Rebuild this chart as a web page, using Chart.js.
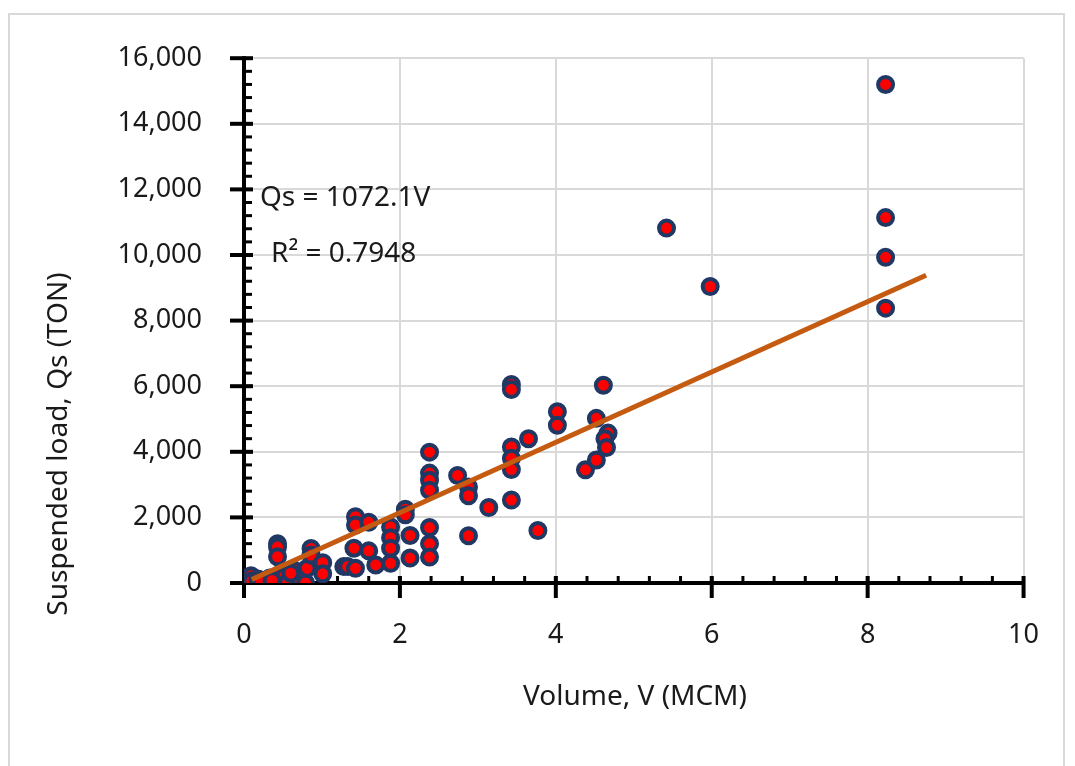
<!DOCTYPE html>
<html>
<head>
<meta charset="utf-8">
<script src="https://cdn.jsdelivr.net/npm/chart.js@4.4.1/dist/chart.umd.min.js"></script>
<style>
  html, body { margin: 0; padding: 0; background: #fff; overflow: hidden; }
  #frame { position: absolute; left: 8px; top: 13px; width: 1053px; height: 800px; border: 2px solid #d9d9d9; }
  #wrap { position: absolute; left: 0; top: 0; width: 1075px; height: 766px; }
</style>
</head>
<body>
<div id="frame"></div>
<div id="wrap"><canvas id="chart" width="1075" height="766"></canvas></div>
<script>
// Volume V (MCM) and suspended load Qs (TON)
const volume = [
  0.09, 0.10, 0.18, 0.28, 0.33, 0.43, 0.43, 0.43, 0.45, 0.52,
  0.56, 0.64, 0.70, 0.79, 0.81, 0.86, 0.86, 1.01, 1.01, 1.28,
  1.33, 1.43, 1.43, 1.41, 1.43, 1.60, 1.60, 1.69, 1.88, 1.88,
  1.88, 1.88, 2.07, 2.07, 2.13, 2.13, 2.38, 2.38, 2.38, 2.38,
  2.38, 2.38, 2.38, 2.74, 2.88, 2.88, 2.88, 3.14, 3.43, 3.43,
  3.43, 3.43, 3.43, 3.43, 3.65, 3.77, 4.02, 4.02, 4.38, 4.52,
  4.52, 4.61, 4.67, 4.63, 4.65, 5.42, 5.98, 8.23, 8.23, 8.23,
  8.23, 0.22, 0.36, 0.60
]
const load = [
  220, 60, 120, 0, 150, 1200, 1100, 800, 250, 200,
  0, 400, 150, 0, 450, 1050, 850, 620, 280, 500,
  500, 2020, 1770, 1060, 450, 1850, 980, 550, 1710, 1380,
  1060, 600, 2250, 2080, 1450, 760, 3990, 3350, 3130, 2830,
  1690, 1200, 790, 3280, 2930, 2660, 1440, 2300, 6050, 5900,
  4150, 3800, 3460, 2530, 4400, 1600, 5220, 4810, 3450, 5020,
  3750, 6030, 4570, 4400, 4130, 10820, 9040, 15200, 11140, 9930,
  8380, 30, 80, 300
]

// linear trendline through origin (Qs = 1072.1V), endpoints as shown
const trendVolume = [0.1, 8.75]
const trendLoad = [107, 9381]

const xTicks = [0, 2, 4, 6, 8, 10]
const yTicks = [0, 2000, 4000, 6000, 8000, 10000, 12000, 14000, 16000]
const xMinorStep = 0.4
const yMinorStep = 400

const equationText = "Qs = 1072.1V"
const r2Text = "R² = 0.7948"
const xTitle = "Volume, V (MCM)"
const yTitle = "Suspended load, Qs (TON)"

const FONT = "'Noto Sans', 'Open Sans', sans-serif"
const TEXT = "#1a1a1a"

const points = volume.map((v, i) => ({ x: v, y: load[i] }))
const trend = trendVolume.map((v, i) => ({ x: v, y: trendLoad[i] }))

// axis lines + cross/inside ticks, Excel style
const axesPlugin = {
  id: "axesPlugin",
  beforeDatasetsDraw(chart) {
    const { ctx, chartArea, scales } = chart
    const xs = scales.x, ys = scales.y
    const x0 = xs.getPixelForValue(0)
    const y0 = ys.getPixelForValue(0)
    ctx.save()
    ctx.strokeStyle = "#000"
    ctx.lineCap = "butt"

    // minor ticks
    ctx.lineWidth = 3
    for (let v = yMinorStep; v < 16000; v += yMinorStep) {
      const py = ys.getPixelForValue(v)
      ctx.beginPath(); ctx.moveTo(x0, py); ctx.lineTo(x0 + 8, py); ctx.stroke()
    }
    for (let k = 1; k * xMinorStep < 10; k++) {
      const px = xs.getPixelForValue(k * xMinorStep)
      ctx.beginPath(); ctx.moveTo(px, y0); ctx.lineTo(px, y0 - 7); ctx.stroke()
    }

    // major ticks (cross)
    ctx.lineWidth = 4
    yTicks.forEach(v => {
      const py = ys.getPixelForValue(v)
      ctx.beginPath(); ctx.moveTo(x0 - 14, py); ctx.lineTo(x0 + 9, py); ctx.stroke()
    })
    xTicks.forEach(v => {
      const px = xs.getPixelForValue(v)
      ctx.beginPath(); ctx.moveTo(px, y0 - 7); ctx.lineTo(px, y0 + 15); ctx.stroke()
    })

    // axis lines
    ctx.beginPath(); ctx.moveTo(x0, chartArea.top - 2); ctx.lineTo(x0, y0 + 2); ctx.stroke()
    ctx.beginPath(); ctx.moveTo(x0 - 2, y0); ctx.lineTo(chartArea.right, y0); ctx.stroke()
    ctx.restore()
  },
  afterDraw(chart) {
    const { ctx } = chart
    ctx.save()
    ctx.fillStyle = TEXT
    ctx.font = "28px " + FONT
    ctx.textBaseline = "middle"
    ctx.textAlign = "left"
    ctx.fillText(equationText, 260, 198)
    ctx.fillText(r2Text, 271, 254)

    ctx.textAlign = "center"
    ctx.fillText(xTitle, 635, 697)
    ctx.translate(59, 444)
    ctx.rotate(-Math.PI / 2)
    ctx.fillText(yTitle, 0, 0)
    ctx.restore()
  }
}

new Chart(document.getElementById("chart"), {
  type: "scatter",
  data: {
    datasets: [
      {
        type: "line",
        label: "Trend",
        data: trend,
        borderColor: "#C55A11",
        borderWidth: 5,
        pointRadius: 0,
        fill: false,
        order: 0
      },
      {
        label: "Qs",
        data: points,
        backgroundColor: "#FF0000",
        borderColor: "#203864",
        borderWidth: 4,
        pointRadius: 7.5,
        pointHoverRadius: 7.5,
        order: 1
      }
    ]
  },
  options: {
    responsive: false,
    animation: false,
    layout: { padding: { left: 0, top: 57, right: 45, bottom: 33 } },
    plugins: {
      legend: { display: false },
      tooltip: { enabled: false }
    },
    scales: {
      x: {
        type: "linear",
        min: 0,
        max: 10,
        afterFit: s => { s.height = 150 },
        afterBuildTicks: s => { s.ticks = xTicks.map(v => ({ value: v })) },
        grid: { color: "#d9d9d9", lineWidth: 2, drawTicks: false },
        border: { display: false },
        ticks: {
          color: TEXT,
          font: { family: FONT, size: 27 },
          padding: 36
        }
      },
      y: {
        type: "linear",
        min: 0,
        max: 16000,
        afterFit: s => { s.width = 244 },
        afterBuildTicks: s => { s.ticks = yTicks.map(v => ({ value: v })) },
        grid: { color: "#d9d9d9", lineWidth: 2, drawTicks: false },
        border: { display: false },
        ticks: {
          color: TEXT,
          font: { family: FONT, size: 27 },
          padding: 42,
          callback: v => v.toLocaleString("en-US")
        }
      }
    }
  },
  plugins: [axesPlugin]
})
</script>
</body>
</html>
